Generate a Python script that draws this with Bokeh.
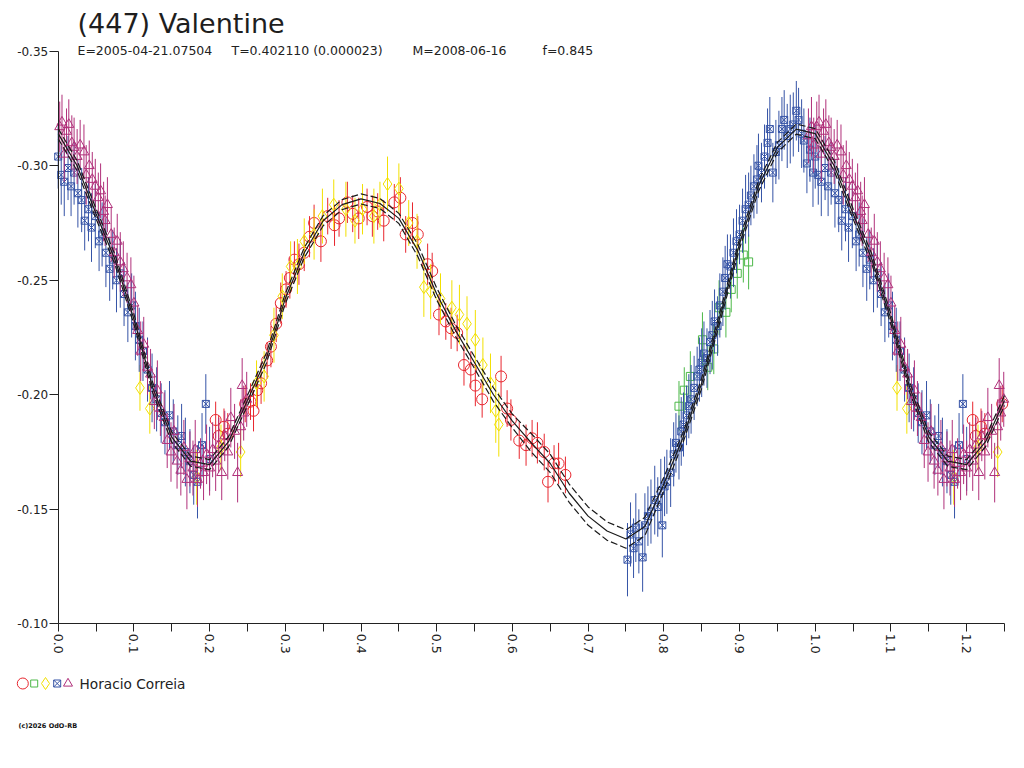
import math
import numpy as np
from bokeh.plotting import figure
from bokeh.models import Range1d, FixedTicker
from bokeh.core.properties import value
from bokeh.embed import file_html
from bokeh.resources import INLINE

# ---------------- texts ----------------
TITLE = "(447) Valentine"
SUBTITLE_PARTS = ["E=2005-04-21.07504", "T=0.402110 (0.000023)", "M=2008-06-16", "f=0.845"]
OBSERVER = "Horacio Correia"
COPYRIGHT = "(c)2026 OdO-RB"

# ---------------- ticks ----------------
x_ticks = [0.0, 0.1, 0.2, 0.3, 0.4, 0.5, 0.6, 0.7, 0.8, 0.9, 1.0, 1.1, 1.2]
x_tick_labels = ["0.0", "0.1", "0.2", "0.3", "0.4", "0.5", "0.6", "0.7", "0.8", "0.9", "1.0", "1.1", "1.2"]
x_minor_ticks = [0.05, 0.15, 0.25, 0.35, 0.45, 0.55, 0.65, 0.75, 0.85, 0.95, 1.05, 1.15, 1.25]
y_ticks = [-0.35, -0.30, -0.25, -0.20, -0.15, -0.10]
y_tick_labels = ["-0.35", "-0.30", "-0.25", "-0.20", "-0.15", "-0.10"]

# ---------------- fitted curve (phase 0..1) ----------------
curve_phase = [0.000, 0.025, 0.050, 0.075, 0.100, 0.125, 0.150, 0.175, 0.200, 0.225,
               0.250, 0.275, 0.300, 0.325, 0.350, 0.375, 0.400, 0.425, 0.450, 0.475,
               0.500, 0.525, 0.550, 0.575, 0.600, 0.625, 0.650, 0.675, 0.700, 0.725,
               0.750, 0.775, 0.800, 0.825, 0.850, 0.875, 0.900, 0.925, 0.950, 0.975, 1.000]
curve_mag = [-0.3140, -0.3000, -0.2790, -0.2590, -0.2330, -0.2030, -0.1815, -0.1710, -0.1695, -0.1795,
             -0.1975, -0.2160, -0.2420, -0.2620, -0.2760, -0.2830, -0.2855, -0.2835, -0.2770, -0.2630,
             -0.2440, -0.2280, -0.2140, -0.2000, -0.1885, -0.1790, -0.1700, -0.1570, -0.1470, -0.1405,
             -0.1370, -0.1425, -0.1610, -0.1810, -0.2050, -0.2350, -0.2660, -0.2910, -0.3080, -0.3160, -0.3140]
curve_err = [0.0022, 0.0022, 0.0022, 0.0022, 0.0022, 0.0022, 0.0022, 0.0022, 0.0022, 0.0022,
             0.0022, 0.0022, 0.0022, 0.0022, 0.0022, 0.0022, 0.0022, 0.0022, 0.0022, 0.0026,
             0.0026, 0.0026, 0.0026, 0.0030, 0.0030, 0.0040, 0.0040, 0.0040, 0.0040, 0.0040,
             0.0040, 0.0040, 0.0030, 0.0022, 0.0022, 0.0022, 0.0022, 0.0022, 0.0022, 0.0022, 0.0022]

# ---------------- observations (phase, mag, error) ----------------
red_phase = [0.208, 0.212, 0.219, 0.224, 0.247, 0.254, 0.258, 0.263, 0.268, 0.276,
             0.281, 0.288, 0.294, 0.301, 0.306, 0.312, 0.318, 0.325, 0.332, 0.338,
             0.347, 0.356, 0.365, 0.371, 0.382, 0.389, 0.397, 0.408, 0.415, 0.422,
             0.430, 0.444, 0.452, 0.459, 0.468, 0.475, 0.488, 0.494, 0.503, 0.512,
             0.519, 0.527, 0.536, 0.545, 0.551, 0.560, 0.585, 0.593, 0.598, 0.609,
             0.618, 0.626, 0.633, 0.642, 0.647, 0.655, 0.661, 0.670]
red_mag = [-0.189, -0.182, -0.186, -0.183, -0.196, -0.197, -0.193, -0.202, -0.205, -0.215,
           -0.221, -0.231, -0.240, -0.246, -0.251, -0.259, -0.257, -0.262, -0.269, -0.275,
           -0.267, -0.278, -0.274, -0.277, -0.284, -0.279, -0.277, -0.282, -0.278, -0.280,
           -0.276, -0.284, -0.286, -0.270, -0.275, -0.270, -0.257, -0.254, -0.235, -0.232,
           -0.229, -0.227, -0.213, -0.211, -0.204, -0.198, -0.208, -0.194, -0.189, -0.180,
           -0.178, -0.181, -0.179, -0.175, -0.162, -0.170, -0.170, -0.165]
red_err = [0.008, 0.009, 0.008, 0.009, 0.008, 0.008, 0.009, 0.008, 0.009, 0.008,
           0.009, 0.008, 0.009, 0.008, 0.009, 0.008, 0.009, 0.008, 0.009, 0.008,
           0.009, 0.008, 0.009, 0.008, 0.009, 0.008, 0.009, 0.008, 0.009, 0.008,
           0.009, 0.008, 0.009, 0.008, 0.009, 0.008, 0.009, 0.008, 0.009, 0.008,
           0.009, 0.008, 0.009, 0.008, 0.009, 0.008, 0.009, 0.008, 0.009, 0.008,
           0.009, 0.008, 0.009, 0.008, 0.009, 0.008, 0.009, 0.008]

green_phase = [0.820, 0.827, 0.835, 0.851, 0.858, 0.866, 0.873, 0.882, 0.889, 0.897, 0.905, 0.912]
green_mag = [-0.195, -0.202, -0.208, -0.224, -0.212, -0.220, -0.238, -0.236, -0.246, -0.253, -0.261, -0.258]
green_err = [0.011, 0.010, 0.011, 0.012, 0.010, 0.011, 0.012, 0.011, 0.010, 0.011, 0.012, 0.012]

yellow_phase = [0.108, 0.121, 0.183, 0.215, 0.241, 0.262, 0.272, 0.285, 0.296, 0.307,
                0.316, 0.325, 0.338, 0.349, 0.364, 0.380, 0.392, 0.402, 0.417, 0.425,
                0.435, 0.450, 0.463, 0.474, 0.483, 0.492, 0.505, 0.520, 0.530, 0.540,
                0.551, 0.561, 0.571, 0.578, 0.582]
yellow_mag = [-0.203, -0.194, -0.164, -0.177, -0.175, -0.205, -0.208, -0.226, -0.243, -0.256,
              -0.256, -0.267, -0.270, -0.278, -0.283, -0.281, -0.276, -0.281, -0.278, -0.283,
              -0.292, -0.290, -0.275, -0.267, -0.247, -0.245, -0.242, -0.238, -0.235, -0.231,
              -0.224, -0.213, -0.205, -0.193, -0.187]
yellow_err = [0.010, 0.011, 0.012, 0.010, 0.011, 0.010, 0.011, 0.012, 0.010, 0.011,
              0.012, 0.010, 0.011, 0.012, 0.011, 0.012, 0.010, 0.011, 0.012, 0.010,
              0.012, 0.011, 0.010, 0.012, 0.013, 0.012, 0.011, 0.012, 0.013, 0.012,
              0.013, 0.012, 0.013, 0.014, 0.014]

blue_phase = [0.000, 0.004, 0.008, 0.013, 0.017, 0.021, 0.026, 0.031, 0.035, 0.040,
              0.044, 0.049, 0.054, 0.058, 0.063, 0.068, 0.072, 0.077, 0.082, 0.087,
              0.092, 0.097, 0.102, 0.107, 0.112, 0.118, 0.124, 0.130, 0.136, 0.141,
              0.147, 0.152, 0.158, 0.163, 0.168, 0.174, 0.179, 0.184, 0.190, 0.195, 0.200,
              0.752, 0.756, 0.760, 0.763, 0.767, 0.772, 0.775, 0.779, 0.783, 0.788,
              0.792, 0.796, 0.798, 0.801, 0.804, 0.809, 0.813, 0.816, 0.820, 0.823,
              0.826, 0.830, 0.833, 0.836, 0.840, 0.844, 0.847, 0.850, 0.853, 0.857,
              0.861, 0.864, 0.867, 0.871, 0.874, 0.878, 0.881, 0.884, 0.888, 0.892,
              0.896, 0.900, 0.904, 0.908, 0.912, 0.915, 0.919, 0.923, 0.925, 0.929,
              0.933, 0.937, 0.940, 0.944, 0.948, 0.952, 0.956, 0.959, 0.963, 0.967,
              0.971, 0.975, 0.978, 0.982, 0.985, 0.989, 0.993, 0.997]
blue_mag = [-0.304, -0.296, -0.293, -0.299, -0.291, -0.297, -0.288, -0.285, -0.276, -0.281,
            -0.273, -0.278, -0.267, -0.270, -0.262, -0.255, -0.259, -0.250, -0.253, -0.244,
            -0.236, -0.239, -0.230, -0.224, -0.219, -0.211, -0.203, -0.198, -0.192, -0.188,
            -0.191, -0.184, -0.178, -0.182, -0.175, -0.171, -0.165, -0.162, -0.178, -0.196, -0.172,
            -0.128, -0.139, -0.133, -0.142, -0.136, -0.129, -0.143, -0.147, -0.149, -0.154,
            -0.151, -0.158, -0.143, -0.160, -0.162, -0.166, -0.174, -0.179, -0.177, -0.184,
            -0.187, -0.191, -0.195, -0.198, -0.203, -0.208, -0.211, -0.214, -0.218, -0.216,
            -0.223, -0.226, -0.232, -0.230, -0.239, -0.245, -0.251, -0.257, -0.256, -0.262,
            -0.267, -0.270, -0.276, -0.281, -0.283, -0.287, -0.291, -0.294, -0.300, -0.297,
            -0.304, -0.310, -0.316, -0.297, -0.306, -0.309, -0.316, -0.320, -0.313, -0.316,
            -0.318, -0.324, -0.320, -0.314, -0.311, -0.301, -0.307, -0.297]
blue_err = [0.014, 0.013, 0.015, 0.014, 0.013, 0.014, 0.015, 0.014, 0.013, 0.014,
            0.015, 0.014, 0.013, 0.014, 0.015, 0.014, 0.013, 0.014, 0.015, 0.014,
            0.013, 0.014, 0.015, 0.014, 0.013, 0.014, 0.015, 0.014, 0.013, 0.014,
            0.015, 0.014, 0.013, 0.014, 0.015, 0.014, 0.013, 0.016, 0.014, 0.013, 0.014,
            0.016, 0.014, 0.013, 0.015, 0.014, 0.015, 0.014, 0.013, 0.014, 0.015,
            0.013, 0.014, 0.014, 0.013, 0.014, 0.015, 0.014, 0.013, 0.014, 0.015,
            0.014, 0.013, 0.014, 0.015, 0.014, 0.013, 0.014, 0.015, 0.014, 0.013,
            0.014, 0.015, 0.014, 0.013, 0.014, 0.015, 0.014, 0.013, 0.014, 0.015,
            0.014, 0.013, 0.014, 0.015, 0.014, 0.013, 0.014, 0.015, 0.014, 0.013,
            0.014, 0.015, 0.014, 0.013, 0.014, 0.015, 0.014, 0.013, 0.014, 0.015,
            0.014, 0.013, 0.014, 0.015, 0.014, 0.013, 0.014, 0.015]

magenta_phase = [0.002, 0.005, 0.008, 0.011, 0.014, 0.018, 0.021, 0.025, 0.029, 0.034,
                 0.037, 0.041, 0.045, 0.049, 0.053, 0.056, 0.060, 0.062, 0.065, 0.070,
                 0.074, 0.078, 0.082, 0.086, 0.091, 0.096, 0.100, 0.105, 0.109, 0.113,
                 0.118, 0.122, 0.127, 0.131, 0.135, 0.140, 0.144, 0.149, 0.153, 0.157,
                 0.162, 0.166, 0.170, 0.174, 0.178, 0.181, 0.184, 0.188, 0.192, 0.196,
                 0.200, 0.204, 0.208, 0.212, 0.216, 0.220, 0.224, 0.228, 0.233, 0.237,
                 0.241, 0.243, 0.245, 0.249, 0.991, 0.995, 0.998]
magenta_mag = [-0.317, -0.319, -0.305, -0.315, -0.318, -0.310, -0.308, -0.304, -0.309, -0.306,
               -0.296, -0.300, -0.294, -0.291, -0.286, -0.289, -0.280, -0.276, -0.283, -0.270,
               -0.262, -0.267, -0.258, -0.255, -0.251, -0.248, -0.240, -0.228, -0.219, -0.222,
               -0.212, -0.209, -0.197, -0.202, -0.194, -0.190, -0.180, -0.175, -0.184, -0.171,
               -0.167, -0.177, -0.163, -0.172, -0.168, -0.176, -0.163, -0.170, -0.166, -0.174,
               -0.168, -0.176, -0.171, -0.178, -0.166, -0.182, -0.175, -0.190, -0.184, -0.166,
               -0.186, -0.204, -0.192, -0.198, -0.313, -0.317, -0.309]
magenta_err = [0.011, 0.012, 0.012, 0.010, 0.011, 0.012, 0.013, 0.012, 0.011, 0.012,
               0.013, 0.011, 0.012, 0.012, 0.011, 0.012, 0.013, 0.011, 0.012, 0.012,
               0.011, 0.012, 0.013, 0.012, 0.011, 0.012, 0.012, 0.011, 0.013, 0.012,
               0.012, 0.011, 0.012, 0.013, 0.012, 0.011, 0.012, 0.013, 0.012, 0.012,
               0.011, 0.012, 0.013, 0.012, 0.012, 0.013, 0.012, 0.011, 0.012, 0.013,
               0.012, 0.012, 0.013, 0.012, 0.012, 0.011, 0.012, 0.013, 0.012, 0.013,
               0.012, 0.012, 0.012, 0.012, 0.012, 0.013, 0.012]

# (colour, marker, marker size) per series
SERIES = [
    (red_phase, red_mag, red_err, "#e8262e", "circle", 11),
    (green_phase, green_mag, green_err, "#4cb848", "square", 8),
    (yellow_phase, yellow_mag, yellow_err, "#f2e000", "diamond", 13),
    (blue_phase, blue_mag, blue_err, "#3553a6", "square_x", 7),
    (magenta_phase, magenta_mag, magenta_err, "#b0307a", "triangle", 10),
]

X_END = 1.25
Y_TOP, Y_BOTTOM = -0.35, -0.10

# ---------------- page geometry (pixels) ----------------
FIG_W, FIG_H = 1016, 760
TOP_BORDER = 40                      # room for the title
X0_PX, X_END_PX = 57.7, 1004.0       # where phase 0 and phase 1.25 sit
YTOP_PX, YBOT_PX = 50.7, 623.3       # where -0.35 and -0.10 sit
PX_PER_X = (X_END_PX - X0_PX) / X_END
PX_PER_Y = (YBOT_PX - YTOP_PX) / (Y_BOTTOM - Y_TOP)


def tx(px):
    """anchor for texts / legend keys: page x pixel -> data x"""
    return (px - X0_PX) / PX_PER_X


def ty(py):
    """anchor for texts / legend keys: page y pixel -> data y"""
    return Y_TOP + (py - YTOP_PX) / PX_PER_Y


def folded(ph, mag, err):
    ph = np.asarray(ph, float)
    mag = np.asarray(mag, float)
    err = np.asarray(err, float)
    m = ph <= X_END - 1.0
    return (np.concatenate([ph, ph[m] + 1.0]),
            np.concatenate([mag, mag[m]]),
            np.concatenate([err, err[m]]))


p = figure(width=FIG_W, height=FIG_H,
           x_range=Range1d(tx(0), tx(FIG_W)),
           y_range=Range1d(ty(FIG_H), ty(TOP_BORDER)),
           output_backend="svg", toolbar_location=None,
           min_border_left=0, min_border_right=0,
           min_border_top=TOP_BORDER, min_border_bottom=0,
           background_fill_color="white", border_fill_color="white")
p.outline_line_color = None
p.grid.visible = False

# title
p.title.text = TITLE
p.title.text_font = "DejaVu Sans"
p.title.text_font_size = "27px"
p.title.text_font_style = "normal"
p.title.text_color = "#1e1e1e"
p.title.align = "left"
p.title.offset = 77
p.title.standoff = 3

# axes drawn at the data origin, limited to the data extent
ax = p.xaxis[0]
ax.fixed_location = Y_BOTTOM
ax.bounds = (0.0, X_END)
ax.ticker = FixedTicker(ticks=x_ticks, minor_ticks=x_minor_ticks)
ax.major_label_overrides = {t: l for t, l in zip(x_ticks, x_tick_labels)}
ax.major_label_orientation = -math.pi / 2
ax.major_tick_out = 8
ax.major_tick_in = 0
ax.minor_tick_out = 8
ax.minor_tick_in = 0
ax.major_label_standoff = 2
ax.major_label_text_font_size = "12.5px"

ay = p.yaxis[0]
ay.fixed_location = 0.0
ay.bounds = (Y_TOP, Y_BOTTOM)
ay.ticker = FixedTicker(ticks=y_ticks, minor_ticks=[])
ay.major_label_overrides = {t: l for t, l in zip(y_ticks, y_tick_labels)}
ay.major_tick_out = 9
ay.major_tick_in = 0
ay.minor_tick_line_color = None
ay.major_label_standoff = 1
ay.major_label_text_font_size = "12px"

for a in (ax, ay):
    a.axis_line_color = "#222222"
    a.major_tick_line_color = "#222222"
    a.major_label_text_font = "DejaVu Sans"
    a.major_label_text_color = "#222222"
ax.minor_tick_line_color = "#222222"

# data: error bars and markers
for ph, mag, err, color, marker, size in SERIES:
    x, y, e = folded(ph, mag, err)
    p.segment(x0=x, y0=y - e, x1=x, y1=y + e, line_color=color, line_width=1)
    p.scatter(x, y, marker=marker, size=size, fill_color=None,
              line_color=color, line_width=1)

# fitted curve with its uncertainty envelope
cx, cy, ce = folded(curve_phase[:-1], curve_mag[:-1], curve_err[:-1])
order = np.argsort(cx)
cx, cy, ce = cx[order], cy[order], ce[order]
p.line(cx, cy, line_color="#1a1a1a", line_width=1.2)
p.line(cx, cy - ce, line_color="#1a1a1a", line_width=1.2, line_dash="7 3")
p.line(cx, cy + ce, line_color="#1a1a1a", line_width=1.2, line_dash="7 3")

# subtitle
p.text(x=[tx(v) for v in (77, 231, 412, 542)], y=[ty(49.5)] * 4, text=SUBTITLE_PARTS,
       text_font=value("DejaVu Sans"), text_font_size="12.5px", text_color="#222222",
       text_align="left", text_baseline="alphabetic")

# legend row: one key per series, then the observer's name
LEGEND_KEY_PX = [22.3, 33.7, 45.0, 56.7, 67.5]
LEGEND_SIZES = [11, 7, 12, 7, 9]
for (ph, mag, err, color, marker, size), kx, ks in zip(SERIES, LEGEND_KEY_PX, LEGEND_SIZES):
    p.scatter([tx(kx)], [ty(683)], marker=marker, size=ks, fill_color=None,
              line_color=color, line_width=1)
p.text(x=[tx(79)], y=[ty(683)], text=[OBSERVER], text_font=value("DejaVu Sans"),
       text_font_size="13.7px", text_color="#222222",
       text_align="left", text_baseline="middle")
p.text(x=[tx(18)], y=[ty(725.5)], text=[COPYRIGHT], text_font=value("DejaVu Sans"),
       text_font_size="6.5px", text_font_style="bold", text_color="#111111",
       text_align="left", text_baseline="middle")

open("out.html", "w").write(file_html(p, INLINE, title=TITLE))
